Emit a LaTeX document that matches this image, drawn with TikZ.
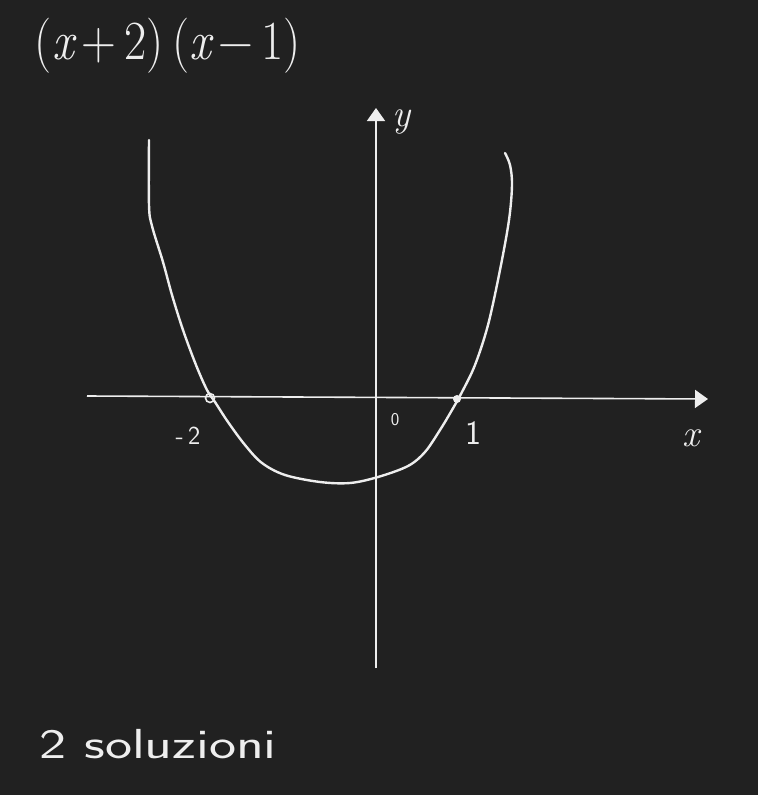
\documentclass[tikz,border=0pt]{standalone}
\usepackage{fontspec}
\usetikzlibrary{arrows.meta}
\definecolor{bg}{RGB}{33,33,33}
\definecolor{ink}{RGB}{238,238,238}
\tikzset{
  axis/.style={draw=ink, line width=1.6pt, -{Triangle[width=18pt,length=13pt]}},
  graph/.style={draw=ink, line width=2.4pt, line cap=round, line join=round},
  lbl/.style={text=ink, inner sep=0pt, font=\fontsize{26}{28}\selectfont\sffamily},
}
\begin{document}
\begin{tikzpicture}[x=1pt,y=-1pt]
\useasboundingbox (0,0) rectangle (758,795);
\fill[bg] (0,0) rectangle (758,795);
% axes
\coordinate (xs) at (87,396);
\coordinate (xe) at (708,399);
\coordinate (ys) at (376,668);
\coordinate (ye) at (376,108);
\draw[axis] (xs) -- (xe);
\draw[axis] (ys) -- (ye);
% parabola
\draw[graph] plot[smooth, tension=0.55] coordinates {
 (149,140) (149,205) (152,226) (163,262) (172,295) (183,330) (196,365) (207,390)
 (215,402) (228,422) (245,445) (262,463) (285,475) (320,482) (350,483) (378,477)
 (408,466) (425,452) (440,430) (452,410) (462,392) (475,365) (488,325) (500,270)
 (509,220) (512,185) (510,165) (505,153)};
% roots
\node[circle, draw=ink, line width=1.6pt, minimum size=9pt, inner sep=0pt] (r1) at (210,398) {};
\node[circle, fill=ink, minimum size=8pt, inner sep=0pt] (r2) at (457,399) {};
% labels
\node[lbl] (lm2) at (188,436) {-\,2};
\node[lbl, font=\fontsize{18}{20}\selectfont\sffamily] (l0) at (395,420) {0};
\node[lbl, font=\fontsize{34}{36}\selectfont\sffamily] (l1) at (473,433) {1};
\node[lbl, font=\fontsize{38}{40}\selectfont\itshape] (lx) at (691,438) {x};
\node[lbl, font=\fontsize{38}{40}\selectfont\itshape] (ly) at (402,122) {y};
% formula
\node[lbl, font=\fontsize{46}{50}\selectfont, yscale=1.2, xscale=1.05] (f) at (168,46)
  {({\itshape x}\,+\,2)\,({\itshape x}\,−\,1)};
% bottom text
\node[lbl, font=\fontsize{42}{46}\selectfont\sffamily, xscale=1.37] (t) at (158,744) {2 soluzioni};
\end{tikzpicture}
\end{document}
